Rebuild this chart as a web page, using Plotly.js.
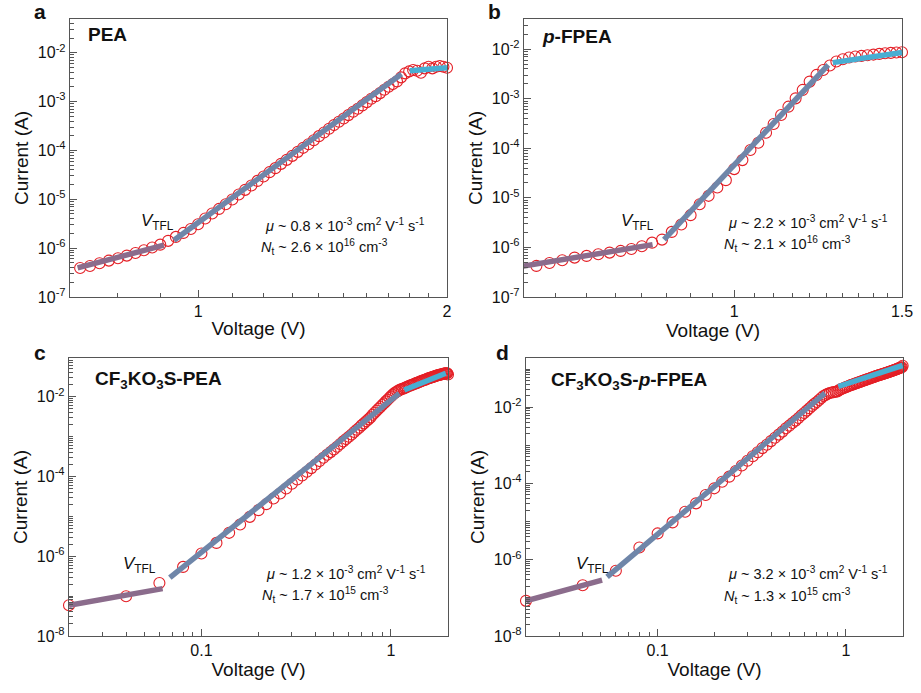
<!DOCTYPE html>
<html>
<head>
<meta charset="utf-8">
<script src="https://cdn.plot.ly/plotly-3.0.1.min.js"></script>
<style>html,body{margin:0;padding:0;background:#fff;}#chart{width:921px;height:693px;}</style>
</head>
<body>
<div id="chart"></div>
<script>
// ---------- Panel a : PEA ----------
var voltageA = [0.72,0.74,0.76,0.78,0.80,0.82,0.84,0.86,0.88,0.90,0.92,0.94,0.96,0.98,1.00,1.02,1.04,1.06,1.08,1.10,
  1.12,1.14,1.16,1.18,1.20,1.22,1.24,1.26,1.28,1.30,1.32,1.34,1.36,1.38,1.40,1.42,1.44,1.46,1.48,1.50,1.52,1.54,1.56,1.58,1.60,
  1.62,1.64,1.66,1.68,1.70,1.72,1.74,1.76,1.78,1.80,1.82,1.84,1.86,1.88,1.90,1.92,1.94,1.96,1.98,2.00];
var currentA = [3.93e-7,4.32e-7,4.90e-7,5.56e-7,6.19e-7,7.03e-7,7.98e-7,9.03e-7,1.03e-6,1.18e-6,1.41e-6,1.70e-6,2.05e-6,2.47e-6,3.08e-6,4.03e-6,5.11e-6,6.35e-6,7.93e-6,9.89e-6,
  1.25e-5,1.56e-5,1.91e-5,2.38e-5,2.92e-5,3.59e-5,4.34e-5,5.31e-5,6.41e-5,7.74e-5,9.35e-5,1.13e-4,1.34e-4,1.62e-4,1.96e-4,2.33e-4,2.77e-4,3.30e-4,3.85e-4,4.51e-4,5.28e-4,6.18e-4,7.11e-4,8.34e-4,9.75e-4,
  1.14e-3,1.29e-3,1.49e-3,1.75e-3,2.01e-3,2.28e-3,2.59e-3,3.13e-3,3.78e-3,4.14e-3,4.42e-3,4.28e-3,3.89e-3,4.78e-3,5.16e-3,4.78e-3,5.16e-3,5.33e-3,5.16e-3,4.93e-3];
var fitA_ohmV = [0.715,0.909], fitA_ohmI = [3.93e-7,1.15e-6];
var fitA_tflV = [0.935,1.762], fitA_tflI = [1.45e-6,3.66e-3];
var fitA_chV  = [1.803,2.0],   fitA_chI  = [4.28e-3,4.93e-3];

// ---------- Panel b : p-FPEA ----------
var voltageB = [0.60,0.62,0.64,0.66,0.68,0.70,0.72,0.74,0.76,0.78,0.80,0.82,0.84,0.86,0.88,0.90,0.92,0.94,0.96,0.98,1.00,
  1.02,1.04,1.06,1.08,1.10,1.12,1.14,1.16,1.18,1.20,1.22,1.24,1.26,1.28,1.30,1.32,1.34,1.36,1.38,1.40,1.42,1.44,1.46,1.48,1.50];
var currentB = [4.04e-7,4.24e-7,4.86e-7,5.51e-7,6.24e-7,6.75e-7,7.30e-7,7.87e-7,8.51e-7,9.33e-7,1.06e-6,1.25e-6,1.44e-6,2.06e-6,2.90e-6,4.48e-6,7.46e-6,1.10e-5,1.62e-5,2.28e-5,3.81e-5,
  5.79e-5,9.23e-5,1.30e-4,2.07e-4,3.10e-4,4.71e-4,6.93e-4,1.02e-3,1.51e-3,2.22e-3,3.03e-3,3.82e-3,4.68e-3,5.64e-3,6.28e-3,6.79e-3,7.11e-3,7.33e-3,7.57e-3,7.80e-3,8.05e-3,8.30e-3,8.43e-3,8.57e-3,8.69e-3];
var fitB_ohmV = [0.600,0.821], fitB_ohmI = [4.17e-7,1.14e-6];
var fitB_tflV = [0.844,1.255], fitB_tflI = [1.44e-6,4.82e-3];
var fitB_chV  = [1.269,1.50],  fitB_chI  = [5.37e-3,8.57e-3];

// ---------- Panels c, d : shared voltage sweep ----------
var voltageCD = [0.02,0.04,0.06,0.08,0.10,0.12,0.14,0.16,0.18,0.20,0.22,0.24,0.26,0.28,0.30,0.32,0.34,0.36,0.38,0.40,
  0.42,0.44,0.46,0.48,0.50,0.52,0.54,0.56,0.58,0.60,0.62,0.64,0.66,0.68,0.70,0.72,0.74,0.76,0.78,0.80,
  0.82,0.84,0.86,0.88,0.90,0.92,0.94,0.96,0.98,1.00,1.02,1.04,1.06,1.08,1.10,1.12,1.14,1.16,1.18,1.20,
  1.22,1.24,1.26,1.28,1.30,1.32,1.34,1.36,1.38,1.40,1.42,1.44,1.46,1.48,1.50,1.52,1.54,1.56,1.58,1.60,
  1.62,1.64,1.66,1.68,1.70,1.72,1.74,1.76,1.78,1.80,1.82,1.84,1.86,1.88,1.90,1.92,1.94,1.96,1.98,2.00];
// Panel c : CF3KO3S-PEA
var currentC = [5.89e-8,9.9e-8,2.14e-7,5.4e-7,1.17e-6,2.16e-6,3.86e-6,6.24e-6,9.71e-6,1.43e-5,2.02e-5,2.80e-5,3.74e-5,5.00e-5,6.55e-5,8.41e-5,1.06e-4,1.31e-4,1.62e-4,2.00e-4,
  2.43e-4,2.94e-4,3.50e-4,4.08e-4,4.77e-4,5.56e-4,6.49e-4,7.57e-4,8.65e-4,9.90e-4,1.13e-3,1.30e-3,1.48e-3,1.67e-3,1.91e-3,2.14e-3,2.41e-3,2.70e-3,3.03e-3,3.53e-3,
  3.96e-3,4.46e-3,5.00e-3,5.51e-3,6.18e-3,6.81e-3,7.64e-3,8.41e-3,9.26e-3,1.02e-2,1.12e-2,1.21e-2,1.29e-2,1.36e-2,1.44e-2,1.50e-2,1.56e-2,1.59e-2,1.65e-2,1.71e-2,
  1.78e-2,1.85e-2,1.89e-2,1.96e-2,2.00e-2,2.08e-2,2.12e-2,2.20e-2,2.25e-2,2.29e-2,2.38e-2,2.43e-2,2.52e-2,2.57e-2,2.62e-2,2.67e-2,2.78e-2,2.83e-2,2.89e-2,2.94e-2,
  3.00e-2,3.06e-2,3.12e-2,3.18e-2,3.24e-2,3.30e-2,3.37e-2,3.43e-2,3.50e-2,3.50e-2,3.57e-2,3.64e-2,3.64e-2,3.71e-2,3.78e-2,3.78e-2,3.85e-2,3.85e-2,3.85e-2,3.60e-2];
var fitC_ohmV = [0.02,0.0624],  fitC_ohmI = [5.89e-8,1.54e-7];
var fitC_tflV = [0.0681,1.106], fitC_tflI = [2.91e-7,1.21e-2];
var fitC_chV  = [1.175,1.947],  fitC_chI  = [1.47e-2,3.86e-2];
// Panel d : CF3KO3S-p-FPEA
var currentD = [8.34e-8,2.15e-7,5.12e-7,2.10e-6,4.90e-6,9.53e-6,1.82e-5,3.01e-5,4.98e-5,7.45e-5,1.11e-4,1.51e-4,2.13e-4,2.95e-4,3.95e-4,5.15e-4,6.60e-4,8.45e-4,1.04e-3,1.29e-3,
  1.58e-3,1.91e-3,2.29e-3,2.79e-3,3.28e-3,3.85e-3,4.45e-3,5.22e-3,6.14e-3,7.07e-3,8.14e-3,9.38e-3,1.08e-2,1.22e-2,1.37e-2,1.55e-2,1.75e-2,1.96e-2,2.10e-2,2.24e-2,
  2.35e-2,2.43e-2,2.48e-2,2.53e-2,2.58e-2,2.80e-2,2.97e-2,3.09e-2,3.22e-2,3.35e-2,3.49e-2,3.63e-2,3.78e-2,3.86e-2,4.02e-2,4.18e-2,4.27e-2,4.44e-2,4.54e-2,4.72e-2,
  4.82e-2,5.02e-2,5.12e-2,5.22e-2,5.44e-2,5.55e-2,5.66e-2,5.90e-2,6.02e-2,6.14e-2,6.26e-2,6.52e-2,6.65e-2,6.79e-2,6.93e-2,7.07e-2,7.21e-2,7.36e-2,7.51e-2,7.66e-2,
  7.81e-2,7.97e-2,8.14e-2,8.30e-2,8.47e-2,8.64e-2,8.82e-2,9.00e-2,9.18e-2,9.37e-2,9.56e-2,9.76e-2,9.96e-2,1.02e-1,1.04e-1,1.06e-1,1.08e-1,1.10e-1,1.12e-1,1.22e-1];
var fitD_ohmV = [0.02,0.0507],  fitD_ohmI = [8.34e-8,2.91e-7];
var fitD_tflV = [0.0539,0.774], fitD_tflI = [3.56e-7,2.33e-2];
var fitD_chV  = [0.911,2.0],    fitD_chI  = [3.49e-2,1.25e-1];

// ---------- Tick labels ----------
var xTickValsA = [1,2], xTickTextA = ['1','2'];
var xTickValsB = [1,1.5], xTickTextB = ['1','1.5'];
var xTickValsCD = [0.1,1], xTickTextCD = ['0.1','1'];
var yTickValsAB = [1e-7,1e-6,1e-5,1e-4,1e-3,1e-2];
var yTickTextAB = ['10<sup>-7</sup>','10<sup>-6</sup>','10<sup>-5</sup>','10<sup>-4</sup>','10<sup>-3</sup>','10<sup>-2</sup>'];
var yTickValsCD = [1e-8,1e-6,1e-4,1e-2];
var yTickTextCD = ['10<sup>-8</sup>','10<sup>-6</sup>','10<sup>-4</sup>','10<sup>-2</sup>'];

var xMinorA = [0.7,0.8,0.9,1.1,1.2,1.3,1.4,1.5,1.6,1.7,1.8,1.9];
var xMinorB = [0.65,0.7,0.75,0.8,0.85,0.9,0.95,1.05,1.1,1.15,1.2,1.25,1.3,1.35,1.4,1.45];
var xMinorCD = [0.03,0.04,0.05,0.06,0.07,0.08,0.09,0.2,0.3,0.4,0.5,0.6,0.7,0.8,0.9,2];

function decadeMinor(lo, hi) {
  var out = [];
  for (var e = lo; e <= hi; e++) {
    for (var k = 1; k <= 9; k++) out.push(k * Math.pow(10, e));
  }
  return out;
}

var RED = '#e41f26', PURPLE = '#8b6c8c', SLATE = '#6f86a9', CYAN = '#48aed2';
var FONT = 'Liberation Sans, Arial, Helvetica, sans-serif';

var traces = [];
function addPanel(sfx, v, c, fits) {
  traces.push({x: v, y: c, xaxis: 'x' + sfx, yaxis: 'y' + sfx, type: 'scatter', mode: 'markers',
    cliponaxis: false,
    marker: {symbol: 'circle-open', size: 11, color: RED, line: {width: 1.1, color: RED}}, hoverinfo: 'skip'});
  var cols = [PURPLE, SLATE, CYAN];
  for (var i = 0; i < 3; i++) {
    traces.push({x: fits[i][0], y: fits[i][1], xaxis: 'x' + sfx, yaxis: 'y' + sfx, type: 'scatter', mode: 'lines',
      line: {color: cols[i], width: 5.5}, hoverinfo: 'skip'});
  }
}
addPanel('', voltageA, currentA, [[fitA_ohmV, fitA_ohmI], [fitA_tflV, fitA_tflI], [fitA_chV, fitA_chI]]);
addPanel('2', voltageB, currentB, [[fitB_ohmV, fitB_ohmI], [fitB_tflV, fitB_tflI], [fitB_chV, fitB_chI]]);
addPanel('3', voltageCD, currentC, [[fitC_ohmV, fitC_ohmI], [fitC_tflV, fitC_tflI], [fitC_chV, fitC_chI]]);
addPanel('4', voltageCD, currentD, [[fitD_ohmV, fitD_ohmI], [fitD_tflV, fitD_tflI], [fitD_chV, fitD_chI]]);

function px(x) { return x / 921; }
function py(y) { return 1 - y / 693; }

function xAxis(dom, range, anchor, tv, tt, minor) {
  return {type: 'log', domain: dom, range: range, anchor: anchor,
    showline: true, mirror: true, linecolor: '#555', linewidth: 1.2,
    ticks: 'inside', ticklen: 7, tickwidth: 1, tickcolor: '#555',
    tickmode: 'array', tickvals: tv, ticktext: tt,
    tickfont: {family: FONT, size: 16, color: '#111'},
    minor: {tickmode: 'array', tickvals: minor, ticks: 'inside', ticklen: 4, tickcolor: '#555', tickwidth: 1},
    showgrid: false, zeroline: false,
    title: {text: 'Voltage (V)', font: {family: FONT, size: 19, color: '#111'}, standoff: 2}};
}
function yAxis(dom, range, anchor, tv, tt, minor) {
  return {type: 'log', domain: dom, range: range, anchor: anchor,
    showline: true, mirror: true, linecolor: '#555', linewidth: 1.2,
    ticks: 'inside', ticklen: 7, tickwidth: 1, tickcolor: '#555',
    tickmode: 'array', tickvals: tv, ticktext: tt,
    tickfont: {family: FONT, size: 16, color: '#111'},
    minor: {tickmode: 'array', tickvals: minor, ticks: 'inside', ticklen: 4, tickcolor: '#555', tickwidth: 1},
    showgrid: false, zeroline: false,
    title: {text: 'Current (A)', font: {family: FONT, size: 19, color: '#111'}, standoff: 4}};
}

var domAx = [px(70), px(447)], domBx = [px(524), px(902)];
var domCx = [px(69), px(448)], domDx = [px(526), px(903)];
var domTop = [py(297), py(19)], domBot = [py(636), py(358)];

var layout = {
  width: 921, height: 693,
  margin: {l: 0, r: 0, t: 0, b: 0},
  paper_bgcolor: '#fff', plot_bgcolor: '#fff',
  showlegend: false,
  font: {family: FONT, color: '#111'},
  xaxis:  xAxis(domAx, [Math.log10(0.70), Math.log10(2.0)], 'y', xTickValsA, xTickTextA, xMinorA),
  yaxis:  yAxis(domTop, [-7, -1.31], 'x', yTickValsAB, yTickTextAB, decadeMinor(-7, -2)),
  xaxis2: xAxis(domBx, [-0.2206, Math.log10(1.5)], 'y2', xTickValsB, xTickTextB, xMinorB),
  yaxis2: yAxis(domTop, [-7, -1.39], 'x2', yTickValsAB, yTickTextAB, decadeMinor(-7, -2)),
  xaxis3: xAxis(domCx, [Math.log10(0.02), Math.log10(2.0)], 'y3', xTickValsCD, xTickTextCD, xMinorCD),
  yaxis3: yAxis(domBot, [-8, -1.03], 'x3', yTickValsCD, yTickTextCD, decadeMinor(-8, -2)),
  xaxis4: xAxis(domDx, [Math.log10(0.02), 0.303], 'y4', xTickValsCD, xTickTextCD, xMinorCD),
  yaxis4: yAxis(domBot, [-8, -0.71], 'x4', yTickValsCD, yTickTextCD, decadeMinor(-8, -1)),
  annotations: []
};

function ann(x, y, text, size, extra) {
  var a = {xref: 'paper', yref: 'paper', x: px(x), y: py(y), text: text, showarrow: false,
    xanchor: 'left', yanchor: 'middle', font: {family: FONT, size: size, color: '#111'}};
  if (extra) for (var k in extra) a[k] = extra[k];
  layout.annotations.push(a);
}
// panel letters
ann(32, 12, '<b>a</b>', 21);
ann(486, 12, '<b>b</b>', 21);
ann(32, 352, '<b>c</b>', 21);
ann(494, 352, '<b>d</b>', 21);
// sample names
ann(86, 35, '<b>PEA</b>', 19);
ann(540, 36, '<b><i>p</i>-FPEA</b>', 19);
ann(93, 380, '<b>CF<sub>3</sub>KO<sub>3</sub>S-PEA</b>', 19);
ann(549, 381, '<b>CF<sub>3</sub>KO<sub>3</sub>S-<i>p</i>-FPEA</b>', 19);
// V_TFL labels
var vtfl = '<i>V</i><sub>TFL</sub>';
ann(139, 222, vtfl, 17);
ann(619, 222, vtfl, 17);
ann(121, 565, vtfl, 17);
ann(574, 565, vtfl, 17);
// parameters
ann(263, 225, '<i>μ</i> ~ 0.8 × 10<sup>-3</sup> cm<sup>2</sup> V<sup>-1</sup> s<sup>-1</sup>', 14.5);
ann(259, 247, '<i>N</i><sub>t</sub> ~ 2.6 × 10<sup>16</sup> cm<sup>-3</sup>', 14.5);
ann(726, 222, '<i>μ</i> ~ 2.2 × 10<sup>-3</sup> cm<sup>2</sup> V<sup>-1</sup> s<sup>-1</sup>', 14.5);
ann(722, 244, '<i>N</i><sub>t</sub> ~ 2.1 × 10<sup>16</sup> cm<sup>-3</sup>', 14.5);
ann(264, 573, '<i>μ</i> ~ 1.2 × 10<sup>-3</sup> cm<sup>2</sup> V<sup>-1</sup> s<sup>-1</sup>', 14.5);
ann(260, 595, '<i>N</i><sub>t</sub> ~ 1.7 × 10<sup>15</sup> cm<sup>-3</sup>', 14.5);
ann(726, 573, '<i>μ</i> ~ 3.2 × 10<sup>-3</sup> cm<sup>2</sup> V<sup>-1</sup> s<sup>-1</sup>', 14.5);
ann(722, 596, '<i>N</i><sub>t</sub> ~ 1.3 × 10<sup>15</sup> cm<sup>-3</sup>', 14.5);

Plotly.newPlot('chart', traces, layout, {staticPlot: true, displayModeBar: false});
</script>
</body>
</html>
